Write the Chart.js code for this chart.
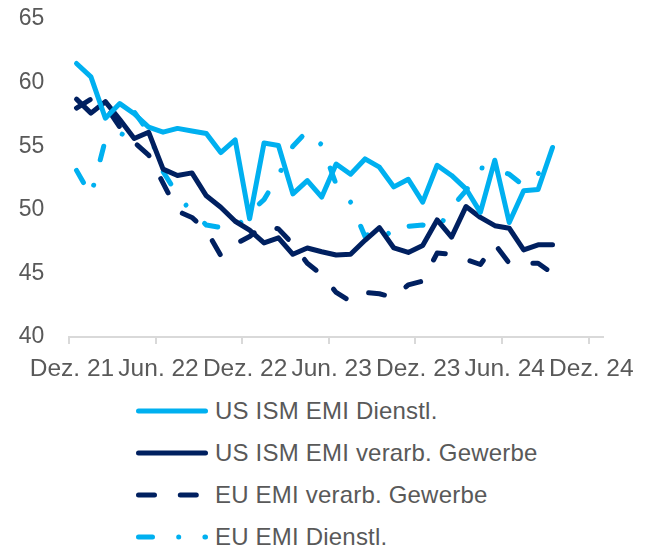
<!DOCTYPE html>
<html>
<head>
<meta charset="utf-8">
<script src="https://cdn.jsdelivr.net/npm/chart.js@4.4.1/dist/chart.umd.min.js"></script>
<style>
  body { margin: 0; background: #fff; }
  #wrap { position: relative; width: 654px; height: 549px; }
  #legend { position: absolute; left: 136px; top: 390px; font-family: "Liberation Sans", Arial, sans-serif; font-size: 24px; letter-spacing: 0.2px; color: #595959; }
  .row { height: 42px; display: flex; align-items: center; }
  .row svg { margin-right: 7px; }
</style>
</head>
<body>
<div id="wrap">
  <canvas id="line-chart" width="654" height="384"></canvas>
  <div id="legend"></div>
</div>
<script>
// months Dez. 21 -> Dez. 24
const months = ['Dez. 21','Jan. 22','Feb. 22','März 22','Apr. 22','Mai 22','Jun. 22','Jul. 22','Aug. 22','Sep. 22','Okt. 22','Nov. 22',
  'Dez. 22','Jan. 23','Feb. 23','März 23','Apr. 23','Mai 23','Jun. 23','Jul. 23','Aug. 23','Sep. 23','Okt. 23','Nov. 23',
  'Dez. 23','Jan. 24','Feb. 24','März 24','Apr. 24','Mai 24','Jun. 24','Jul. 24','Aug. 24','Sep. 24','Okt. 24','Nov. 24','Dez. 24'];

const usIsmServices = [61.5, 60.45, 57.2, 58.35, 57.55, 56.5, 56.1, 56.4, 56.2, 56.0, 54.5, 55.5, 49.3, 55.25, 55.05, 51.25, 52.3,
  51.0, 53.6, 52.8, 54.0, 53.35, 51.8, 52.4, 50.6, 53.5, 52.7, 51.65, 49.8, 53.9, 49.0, 51.5, 51.6, 54.9];
const usIsmManufacturing = [58.7, 57.6, 58.5, 57.1, 55.6, 56.1, 53.2, 52.7, 52.9, 51.1, 50.2, 49.1, 48.4, 47.4, 47.8, 46.5, 47.0,
  46.7, 46.45, 46.5, 47.6, 48.6, 47.0, 46.65, 47.2, 49.2, 47.85, 50.25, 49.4, 48.75, 48.55, 46.85, 47.25, 47.25];
const euManufacturing = [58.0, 58.7, 58.2, 56.5, 55.3, 54.3, 52.1, 49.9, 49.4, 48.4, 46.4, 47.3, 47.9, 48.8, 48.5, 47.3, 45.8,
  44.9, 43.5, 42.8, 43.5, 43.4, 43.1, 44.1, 44.4, 46.6, 46.5, 46.1, 45.7, 47.3, 45.8, 45.8, 45.8, 45.0];
const euServices = [53.1, 51.1, 55.5, 55.6, 57.7, 56.1, 53.0, 51.2, 49.8, 48.8, 48.6, 48.5, 49.8, 50.8, 52.7, 55.0, 56.2,
  55.1, 52.0, 50.6, 47.9, 48.7, 47.8, 48.7, 48.8, 48.4, 50.2, 51.5, 53.3, 53.2, 52.8, 51.9, 52.9, 51.4];

const seriesNames = ['US ISM EMI Dienstl.', 'US ISM EMI verarb. Gewerbe', 'EU EMI verarb. Gewerbe', 'EU EMI Dienstl.'];

const lightBlue = '#00B0F0';
const navy = '#002060';
const textGrey = '#595959';

function line(label, data, color, dash) {
  return {
    label: label,
    data: data,
    borderColor: color,
    backgroundColor: color,
    borderWidth: 5,
    borderDash: dash,
    borderCapStyle: 'round',
    borderJoinStyle: 'round',
    pointRadius: 0,
    tension: 0,
    fill: false
  };
}

const datasets = [
  line(seriesNames[0], usIsmServices, lightBlue, []),
  line(seriesNames[1], usIsmManufacturing, navy, []),
  line(seriesNames[2], euManufacturing, navy, [16, 25.8]),
  line(seriesNames[3], euServices, lightBlue, [14, 26.2, 0.01, 26.2])
];

new Chart(document.getElementById('line-chart'), {
  type: 'line',
  data: { labels: months, datasets: datasets },
  options: {
    responsive: false,
    animation: false,
    layout: { padding: { top: 19, right: 51, left: 0, bottom: 0 } },
    plugins: { legend: { display: false }, tooltip: { enabled: false } },
    scales: {
      x: {
        offset: true,
        grid: {
          offset: true,
          drawOnChartArea: false,
          tickLength: 7,
          lineWidth: 2,
          color: ctx => (ctx.index % 6 === 0 ? '#d9d9d9' : 'rgba(0,0,0,0)')
        },
        border: { color: '#d9d9d9', width: 2 },
        ticks: {
          autoSkip: false,
          maxRotation: 0,
          minRotation: 0,
          padding: 11,
          labelOffset: -4.5,
          color: textGrey,
          font: { family: 'Liberation Sans', size: 24.5 },
          callback: function (v, i) { return i % 6 === 0 ? this.getLabelForValue(v) : ''; }
        },
        afterFit: s => { s.height = 47; }
      },
      y: {
        min: 40,
        max: 65,
        grid: { display: false, drawTicks: false },
        border: { display: false },
        ticks: {
          stepSize: 5,
          padding: 25,
          color: textGrey,
          font: { family: 'Liberation Sans', size: 23 }
        },
        afterFit: s => { s.width = 69.3; s.paddingTop = 0; s.paddingBottom = 0; }
      }
    }
  }
});

// legend, one row per series
const legend = document.getElementById('legend');
datasets.forEach(function (ds) {
  const row = document.createElement('div');
  row.className = 'row';
  const dash = ds.borderDash.length ? ' stroke-dasharray="' + ds.borderDash.join(' ') + '"' : '';
  row.innerHTML = '<svg width="72" height="10"><line x1="2.5" y1="5" x2="69.5" y2="5" stroke="' + ds.borderColor +
    '" stroke-width="5" stroke-linecap="round"' + dash + '/></svg><span>' + ds.label + '</span>';
  legend.appendChild(row);
});
</script>
</body>
</html>
